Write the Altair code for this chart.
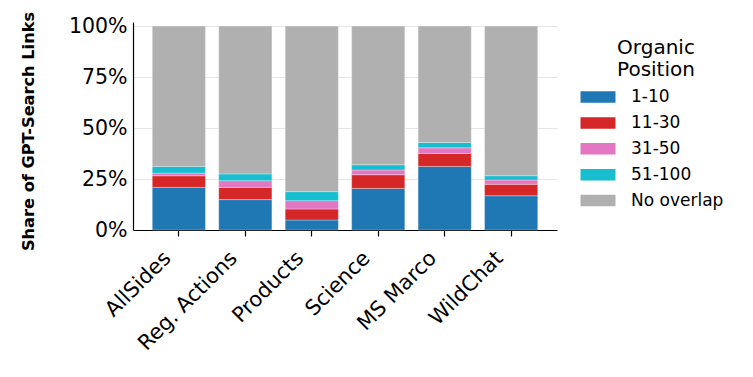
import altair as alt
import pandas as pd

categories = ["AllSides", "Reg. Actions", "Products", "Science", "MS Marco", "WildChat"]
positions = ["1-10", "11-30", "31-50", "51-100", "No overlap"]
colors = ["#1f77b4", "#d62728", "#e377c2", "#17becf", "#b0b0b0"]

share_1_10 = [20.9, 14.9, 4.9, 20.4, 31.2, 16.8]
share_11_30 = [5.7, 6.0, 5.4, 6.7, 6.3, 5.6]
share_31_50 = [1.3, 3.3, 4.1, 2.3, 2.8, 2.1]
share_51_100 = [3.3, 3.3, 4.4, 2.6, 2.6, 2.1]

rows = []
for i, c in enumerate(categories):
    vals = [share_1_10[i], share_11_30[i], share_31_50[i], share_51_100[i]]
    vals.append(100 - sum(vals))
    for j, p in enumerate(positions):
        rows.append({"Dataset": c, "Position": p, "order": j, "share": vals[j] / 100})
df = pd.DataFrame(rows)

chart = alt.Chart(df).mark_bar(
    stroke="white", strokeWidth=0.6, strokeOpacity=0.5
).encode(
    x=alt.X("Dataset:N", sort=categories,
            scale=alt.Scale(paddingInner=0.2, paddingOuter=0.29),
            axis=alt.Axis(title=None, labelAngle=-45, labelAlign="right",
                          labelBaseline="top", labelFontSize=21, labelPadding=11,
                          labelOffset=-19,
                          tickSize=6, tickColor="black", tickWidth=1.2,
                          domainColor="black", domainWidth=1.2, grid=False,
                          labelColor="black")),
    y=alt.Y("share:Q", stack="zero",
            scale=alt.Scale(domain=[0, 1.02], nice=False),
            axis=alt.Axis(title="Share of GPT-Search Links", format=".0%",
                          values=[0, 0.25, 0.5, 0.75, 1.0], ticks=False,
                          labelFontSize=20.5, labelPadding=6, labelColor="black",
                          domainColor="black", domainWidth=1.2,
                          grid=True, gridColor="#e6e6e6", gridWidth=1,
                          titleFontSize=16.2, titleFontWeight="bold",
                          titleColor="black", titleAngle=-90,
                          titleX=-100, titleY=109, titleAlign="center",
                          titleBaseline="alphabetic")),
    color=alt.Color("Position:N", sort=positions,
                    scale=alt.Scale(domain=positions, range=colors),
                    legend=alt.Legend(title=["Organic", "Position"],
                                      orient="none", legendX=456, legendY=16,
                                      titleFontSize=20, titleFontWeight="normal",
                                      titleColor="black", titleAnchor="middle",
                                      titleAlign="center", titleLineHeight=22,
                                      titlePadding=8,
                                      labelFontSize=17, labelColor="black",
                                      symbolType="M-2,-0.66H2V0.66H-2Z",
                                      symbolSize=306, symbolStrokeWidth=0,
                                      labelOffset=24, rowPadding=8.9)),
    order=alt.Order("order:Q", sort="ascending"),
).properties(
    width=424, height=208,
    autosize=alt.AutoSizeParams(type="none"),
    padding={"left": 125, "top": 14, "right": 188, "bottom": 139},
).configure(
    font="DejaVu Sans",
).configure_view(
    stroke=None,
)

chart.save("out.html", embed_options={"renderer": "svg", "actions": False})
